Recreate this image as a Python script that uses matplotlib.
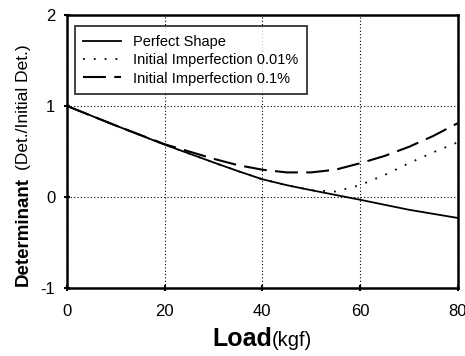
import numpy as np
import matplotlib.pyplot as plt

# values
load_perfect = [0, 10, 20, 30, 35, 40, 45, 50, 60, 70, 80]
det_perfect = [1.0, 0.785, 0.575, 0.38, 0.285, 0.195, 0.13, 0.075, -0.03, -0.14, -0.23]

load_imp001 = [0, 10, 20, 30, 35, 40, 45, 50, 55, 60, 65, 70, 75, 80]
det_imp001 = [1.0, 0.785, 0.575, 0.38, 0.285, 0.195, 0.13, 0.075, 0.06, 0.13, 0.24, 0.37, 0.49, 0.60]

load_imp01 = [0, 10, 20, 30, 35, 40, 45, 50, 55, 60, 65, 70, 75, 80]
det_imp01 = [1.0, 0.785, 0.58, 0.42, 0.35, 0.30, 0.27, 0.27, 0.30, 0.37, 0.45, 0.55, 0.67, 0.81]

x_ticks = [0, 20, 40, 60, 80]
y_ticks = [-1, 0, 1, 2]

plt.rcParams["font.family"] = ["Liberation Sans", "DejaVu Sans"]
plt.rcParams["axes.unicode_minus"] = False

fig = plt.figure(figsize=(4.65, 3.56), dpi=100)
ax = fig.add_axes([0.144, 0.191, 0.840, 0.767])

ax.plot(load_perfect, det_perfect, color="black", lw=1.3, label="Perfect Shape")
ax.plot(load_imp001, det_imp001, color="black", lw=1.3, ls=(0, (1, 5)),
        label="Initial Imperfection 0.01%")
ax.plot(load_imp01, det_imp01, color="black", lw=1.5, ls=(0, (11, 4)),
        label="Initial Imperfection 0.1%")

ax.set_xlim(0, 80)
ax.set_ylim(-1, 2)
ax.set_xticks(x_ticks)
ax.set_yticks(y_ticks)
ax.tick_params(direction="inout", length=5, width=1.5, labelsize=12)
ax.tick_params(axis="x", pad=9)
ax.tick_params(axis="y", pad=6)
for s in ax.spines.values():
    s.set_linewidth(1.8)
ax.grid(True, color="black", ls=(0, (1, 2)), lw=0.8)

leg = ax.legend(loc="upper left", bbox_to_anchor=(0.012, 0.97), fontsize=10.5,
                frameon=True, fancybox=False, edgecolor="black",
                handlelength=2.6, borderpad=0.6, labelspacing=0.3,
                borderaxespad=0.2)
leg.get_frame().set_linewidth(1.3)

# composite axis labels (bold name + smaller unit text)
fig.canvas.draw()
r = fig.canvas.get_renderer()

t1 = fig.text(0, 0, "Load", fontsize=18, fontweight="bold", va="baseline")
t2 = fig.text(0, 0, "(kgf)", fontsize=14.5, va="baseline")
w1 = t1.get_window_extent(r).width / fig.bbox.width
w2 = t2.get_window_extent(r).width / fig.bbox.width
x0 = 262 / 465 - (w1 + w2) / 2
yb = 1 - 346 / 356
t1.set_position((x0, yb))
t2.set_position((x0 + w1, yb))

t3 = fig.text(0, 0, "Determinant", fontsize=13.5, fontweight="bold",
              rotation=90, ha="left", va="baseline", rotation_mode="anchor")
t4 = fig.text(0, 0, "(Det./Initial Det.)", fontsize=12.5,
              rotation=90, ha="left", va="baseline", rotation_mode="anchor")
h3 = t3.get_window_extent(r).height / fig.bbox.height
h4 = t4.get_window_extent(r).height / fig.bbox.height
y0 = 1 - 165 / 356 - (h3 + h4 + 0.02) / 2
xb = 28 / 465
t3.set_position((xb, y0))
t4.set_position((xb, y0 + h3 + 0.02))

fig.savefig("out.png", dpi=100)
